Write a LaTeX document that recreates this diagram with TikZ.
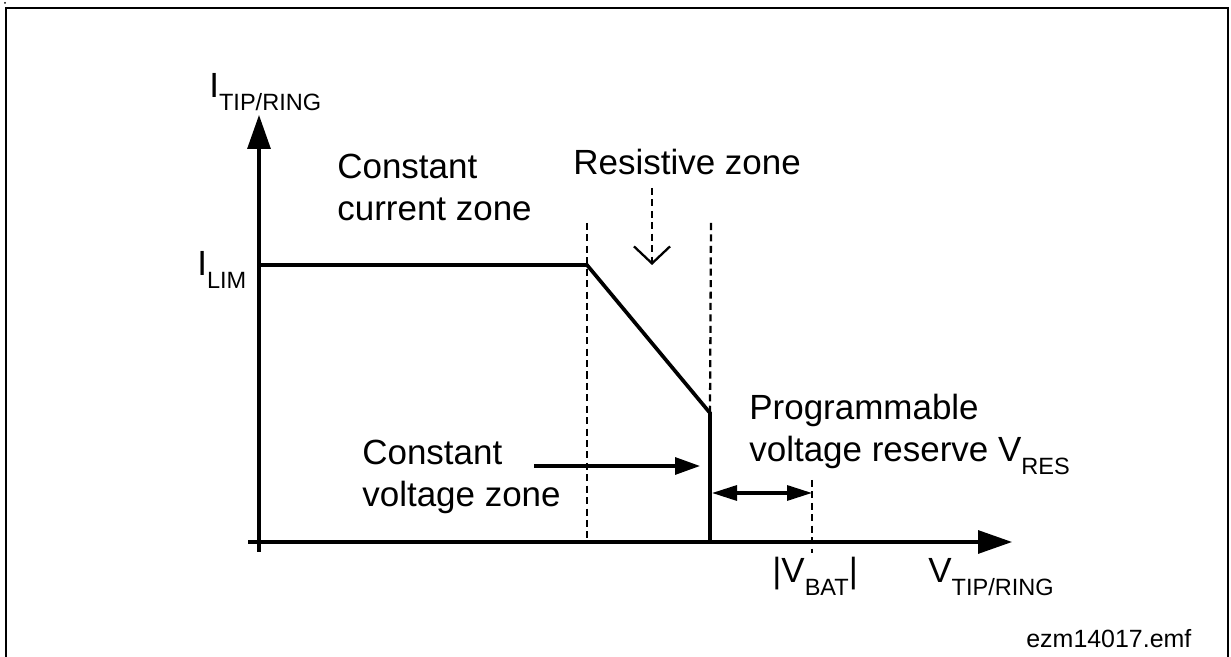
\documentclass[tikz,border=0pt]{standalone}
\usepackage{fontspec}
\setmainfont{Liberation Sans}
\usetikzlibrary{arrows.meta}
\newcommand{\sbs}[1]{\raisebox{-0.25cm}{\fontsize{13.4}{15}\selectfont #1}}
\tikzset{
  lbl/.style={font=\fontsize{19.9}{24.4}\selectfont, inner sep=0, anchor=base west, align=left},
  axis/.style={line width=1.8pt, -{Triangle[length=0.68cm,width=0.46cm]}},
  curve/.style={line width=2.1pt},
  zone/.style={line width=1.3pt, dash pattern=on 4pt off 2.5pt},
  pointer/.style={line width=1.8pt, -{Triangle[length=0.5cm,width=0.34cm]}},
  frame/.style={line width=1.1pt}
}
\begin{document}
\begin{tikzpicture}
\useasboundingbox (0,0) rectangle (24.62,13.14);
\draw[frame] (0.12,0) |- (24.56,12.98) -- (24.56,0);
\fill (0.10,13.08) circle (0.02);
\coordinate (xl) at (4.96,2.30);
\coordinate (xr) at (20.24,2.30);
\coordinate (yb) at (5.18,2.10);
\coordinate (yt) at (5.18,10.84);
\coordinate (lim) at (5.18,7.84);
\coordinate (knee) at (11.74,7.84);
\coordinate (drop) at (14.20,4.88);
\coordinate (foot) at (14.20,2.30);
\draw[axis] (xl) -- (xr);
\draw[axis] (yb) -- (yt);
\draw[curve] (lim) -- (knee) -- (drop) -- (foot);
\draw[zone] (11.74,8.68) -- (11.74,2.30);
\draw[zone] (14.22,8.68) -- (drop);
\coordinate (rtop) at (13.04,9.38);
\coordinate (rtip) at (13.04,7.84);
\draw[zone, -{Straight Barb[length=0.34cm,width=0.72cm,line width=1.3pt]}] (rtop) -- (rtip);
\coordinate (bat) at (16.24,3.54);
\coordinate (batb) at (16.24,2.08);
\draw[zone] (bat) -- (batb);
\coordinate (resl) at (14.24,3.28);
\coordinate (resr) at (16.24,3.28);
\draw[line width=1.8pt, {Triangle[length=0.5cm,width=0.3cm]}-{Triangle[length=0.5cm,width=0.3cm]}] (resl) -- (resr);
\coordinate (cvs) at (10.68,3.82);
\coordinate (cve) at (14.0,3.82);
\draw[pointer] (cvs) -- (cve);
\node[lbl] (iax) at (4.18,11.18) {I\sbs{TIP/RING}};
\node[lbl] (ilim) at (3.94,7.62) {I\sbs{LIM}};
\node[lbl] (cc) at (6.74,8.72) {Constant\\current zone};
\node[lbl] (rz) at (11.46,9.64) {Resistive zone};
\node[lbl] (cv) at (7.24,3.0) {Constant\\voltage zone};
\node[lbl] (vres) at (14.98,3.90) {Programmable\\voltage reserve V\sbs{RES}};
\node[lbl] (vbat) at (15.44,1.48) {|V\sbs{BAT}|};
\node[lbl] (vax) at (18.56,1.48) {V\sbs{TIP/RING}};
\node[lbl, font=\fontsize{14.2}{17}\selectfont] (fname) at (20.52,0.18) {ezm14017.emf};
\end{tikzpicture}
\end{document}
